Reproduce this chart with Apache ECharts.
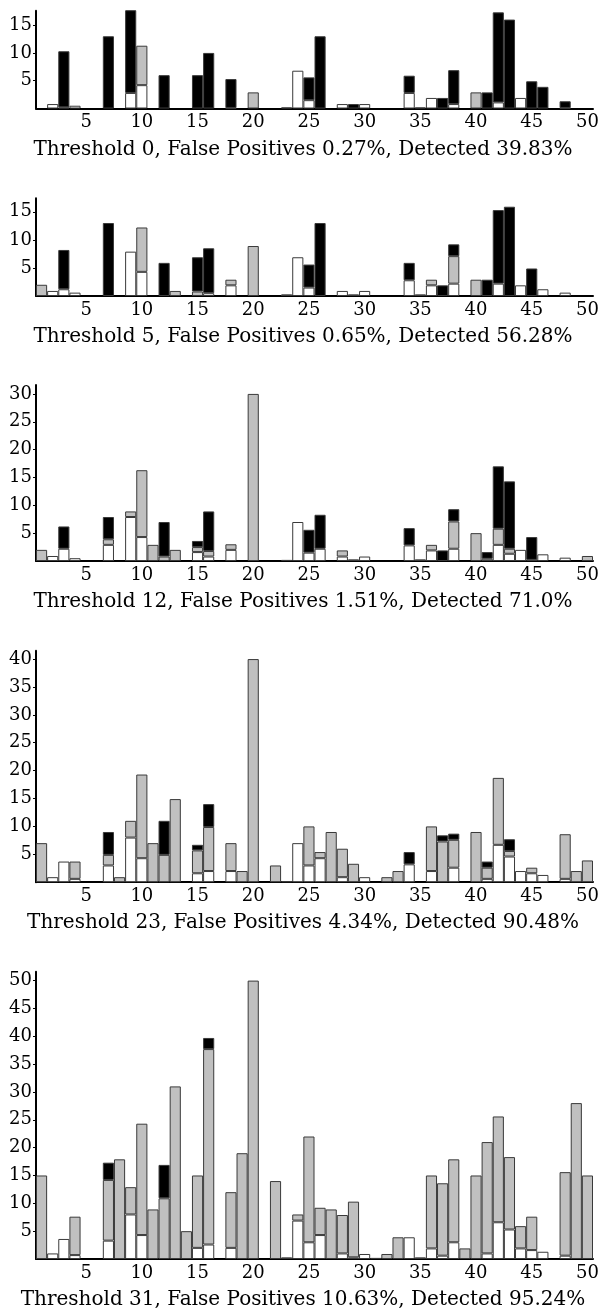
<!DOCTYPE html>
<html>
<head>
<meta charset="utf-8">
<script src="https://cdn.jsdelivr.net/npm/echarts@6/dist/echarts.min.js"></script>
<style>
  html, body { margin: 0; padding: 0; background: #fff; }
  #chart { width: 611px; height: 1314px; }
</style>
</head>
<body>
<div id="chart"></div>
<script>
// bins on the x axis
const bins = ['1','2','3','4','5','6','7','8','9','10','11','12','13','14','15','16','17','18','19','20',
  '21','22','23','24','25','26','27','28','29','30','31','32','33','34','35','36','37','38','39','40',
  '41','42','43','44','45','46','47','48','49','50']
const xTickLabels = ['5', '10', '15', '20', '25', '30', '35', '40', '45', '50']

// threshold 0
const t0White = [0,0.8,0.2,0.5,0,0,0,0,2.8,4.2, 0,0,0,0,0,0,0,0,0,0, 0,0,0.2,6.8,1.5,0,0,0.8,0,0.8, 0,0,0,2.8,0.2,1.9,0,0.8,0,0, 0,1.1,0,1.9,0,0,0,0.1,0,0]
const t0Grey  = [0,0,0,0,0,0,0,0,0,7.1, 0,0,0,0,0,0,0,0.1,0,2.9, 0,0,0,0,0,0,0,0,0,0, 0,0,0,0,0,0,0,0,0,2.9, 0,0,0,0,0,0,0,0,0,0]
const t0Black = [0,0,10.1,0,0,0,13,0,15.2,0, 0,6,0,0,6,10,0,5.2,0,0, 0,0,0,0,4.1,13,0,0,0.8,0, 0,0,0,3.1,0,0,1.9,6.1,0,0, 2.9,16.2,16,0,4.9,3.9,0,1.2,0,0]

// threshold 5
const t5White = [0,0.9,1.2,0.6,0,0,0,0,7.9,4.3, 0,0,0,0,0,0.5,0,1.9,0,0, 0,0,0,6.9,1.5,0,0,0.9,0,0.9, 0,0,0,2.8,0.3,1.9,0,2.2,0,0, 0,2.2,0,1.9,0,1.2,0,0.6,0,0]
const t5Grey  = [2,0,0,0,0,0,0,0,0,7.9, 0,0,0.9,0,0.8,0,0,1,0,8.9, 0,0,0.3,0,0,0,0,0,0.3,0, 0,0,0,0,0,1,0,4.9,0,2.9, 0,0,0,0,0,0,0,0,0,0]
const t5Black = [0,0,7,0,0,0,13,0,0,0, 0,5.9,0,0,6.1,8,0,0,0,0, 0,0,0,0,4.1,13,0,0,0,0, 0,0,0,3.1,0,0,1.9,2.1,0,0, 2.9,13.1,15.9,0,4.9,0,0,0,0,0]

// threshold 12
const t12White = [0,0.9,2.2,0.5,0,0,2.9,0,7.9,4.3, 0,0,0,0,1.6,0.8,0,2,0,0, 0,0,0,7,1.5,2.2,0,0.8,0,0.8, 0,0,0,2.8,0,1.9,0,2.2,0,0, 0.4,2.9,1.3,2,0,1.2,0,0.6,0,0]
const t12Grey  = [2,0,0,0,0,0,1,0,1,12, 2.9,0.8,2,0,0.9,1,0,1,0,30, 0,0,0.2,0,0,0,0,1.1,0.3,0, 0,0,0,0,0.3,1,0,4.9,0,5, 0,2.9,0.9,0,0.2,0,0,0,0,0.9]
const t12Black = [0,0,4,0,0,0,4,0,0,0, 0,6.2,0,0,1.1,7.1,0,0,0,0, 0,0,0,0,4.1,6.1,0,0,0,0, 0,0,0,3.1,0,0,1.9,2.2,0,0, 1.2,11.2,12.1,0,4.1,0,0,0,0,0]

// threshold 23
const t23White = [0,0.9,3.7,0.6,0,0,3,0,8,4.3, 0,0,0,0,1.6,2,0,2,0,0, 0,0,0,7,3,4.3,0,0.9,0,0.9, 0,0,0,3.2,0,2,0,2.6,0,0, 0.6,6.7,4.6,2,1.6,1.3,0,0.6,0,0]
const t23Grey  = [7,0,0,3.1,0,0,1.9,0.9,3,15, 7,4.9,14.9,0,4.1,7.9,0,5,2,40, 0,3,0.2,0,7,1.1,9,5.1,3.3,0, 0,0.9,2,0,0,8,7.3,5,0,9, 2,12,1,0,1,0,0,8,2,3.9]
const t23Black = [0,0,0,0,0,0,4.1,0,0,0, 0,6.1,0,0,1,4.1,0,0,0,0, 0,0,0,0,0,0,0,0,0,0, 0,0,0,2.2,0,0,1.1,1.1,0,0, 1.1,0,2.1,0,0,0,0,0,0,0]

// threshold 31
const t31White = [0,1,3.6,0.7,0,0,3.3,0,8,4.3, 0,0,0,0,2,2.6,0,2,0,0, 0,0,0,6.9,3,4.3,0,1,0.3,0.9, 0,0,0,3.9,0,1.9,0.6,3,0,0, 1,6.6,5.3,1.9,1.6,1.3,0,0.6,0,0]
const t31Grey  = [15,0,0,6.9,0,0,10.9,17.9,4.9,20, 8.9,10.9,31,5,13,35.1,0,10,19,50, 0,14,0.3,1.1,19,4.9,8.9,6.9,10,0, 0.2,0.9,3.9,0,0.3,13.1,13,14.9,1.9,15, 20,19,13,4,6,0,0,15,28,15]
const t31Black = [0,0,0,0,0,0,3.1,0,0,0, 0,6,0,0,0,2,0,0,0,0, 0,0,0,0,0,0,0,0,0,0, 0,0,0,0,0,0,0,0,0,0, 0,0,0,0,0,0,0,0,0,0]

const captions = [
  'Threshold 0, False Positives 0.27%, Detected 39.83%',
  'Threshold 5, False Positives 0.65%, Detected 56.28%',
  'Threshold 12, False Positives 1.51%, Detected 71.0%',
  'Threshold 23, False Positives 4.34%, Detected 90.48%',
  'Threshold 31, False Positives 10.63%, Detected 95.24%'
]
const yMax = [17.6, 17.4, 31.6, 41.5, 51.6]
const yTicks = [
  [5, 10, 15],
  [5, 10, 15],
  [5, 10, 15, 20, 25, 30],
  [5, 10, 15, 20, 25, 30, 35, 40],
  [5, 10, 15, 20, 25, 30, 35, 40, 45, 50]
]

const panels = [
  [t0White, t0Grey, t0Black],
  [t5White, t5Grey, t5Black],
  [t12White, t12Grey, t12Black],
  [t23White, t23Grey, t23Black],
  [t31White, t31Grey, t31Black]
]

// layout (px)
const gridTop = [10.7, 198.3, 385, 650.7, 971.7]
const gridHeight = [97.8, 97.7, 176, 231.5, 287.3]
const fillColors = ['#ffffff', '#c0c0c0', '#000000']
const font = 'DejaVu Serif'

const chart = echarts.init(document.getElementById('chart'))

const grid = []
const xAxis = []
const yAxis = []
const series = []
const title = []
const showTick = (idx) => xTickLabels.includes(bins[idx])

panels.forEach((segs, p) => {
  grid.push({ left: 36, right: 18, top: gridTop[p], height: gridHeight[p] })
  xAxis.push({
    type: 'category',
    gridIndex: p,
    data: bins,
    axisLine: { lineStyle: { color: '#000', width: 2 } },
    axisTick: { alignWithLabel: true, interval: showTick, length: 3, lineStyle: { color: '#000' } },
    axisLabel: { interval: showTick, color: '#000', fontFamily: font, fontSize: 18, margin: 5 }
  })
  yAxis.push({
    type: 'value',
    gridIndex: p,
    min: 0,
    max: yMax[p],
    splitLine: { show: false },
    axisLine: { show: true, lineStyle: { color: '#000', width: 2 } },
    axisTick: { show: true, length: 3, customValues: yTicks[p], lineStyle: { color: '#000' } },
    axisLabel: { customValues: yTicks[p], color: '#000', fontFamily: font, fontSize: 18, margin: 4 }
  })
  segs.forEach((vals, s) => {
    series.push({
      type: 'bar',
      xAxisIndex: p,
      yAxisIndex: p,
      stack: 'panel' + p,
      barCategoryGap: '0%',
      data: vals.map(v => (v === 0 ? '-' : v)),
      itemStyle: { color: fillColors[s], borderColor: '#3a3a3a', borderWidth: 1 },
      emphasis: { disabled: true },
      silent: true
    })
  })
  title.push({
    text: captions[p],
    left: 303,
    textAlign: 'center',
    top: gridTop[p] + gridHeight[p] + 31,
    padding: 0,
    textStyle: { fontFamily: font, fontSize: 20, fontWeight: 'normal', color: '#000' }
  })
})

chart.setOption({
  animation: false,
  title,
  grid,
  xAxis,
  yAxis,
  series
})
</script>
</body>
</html>
